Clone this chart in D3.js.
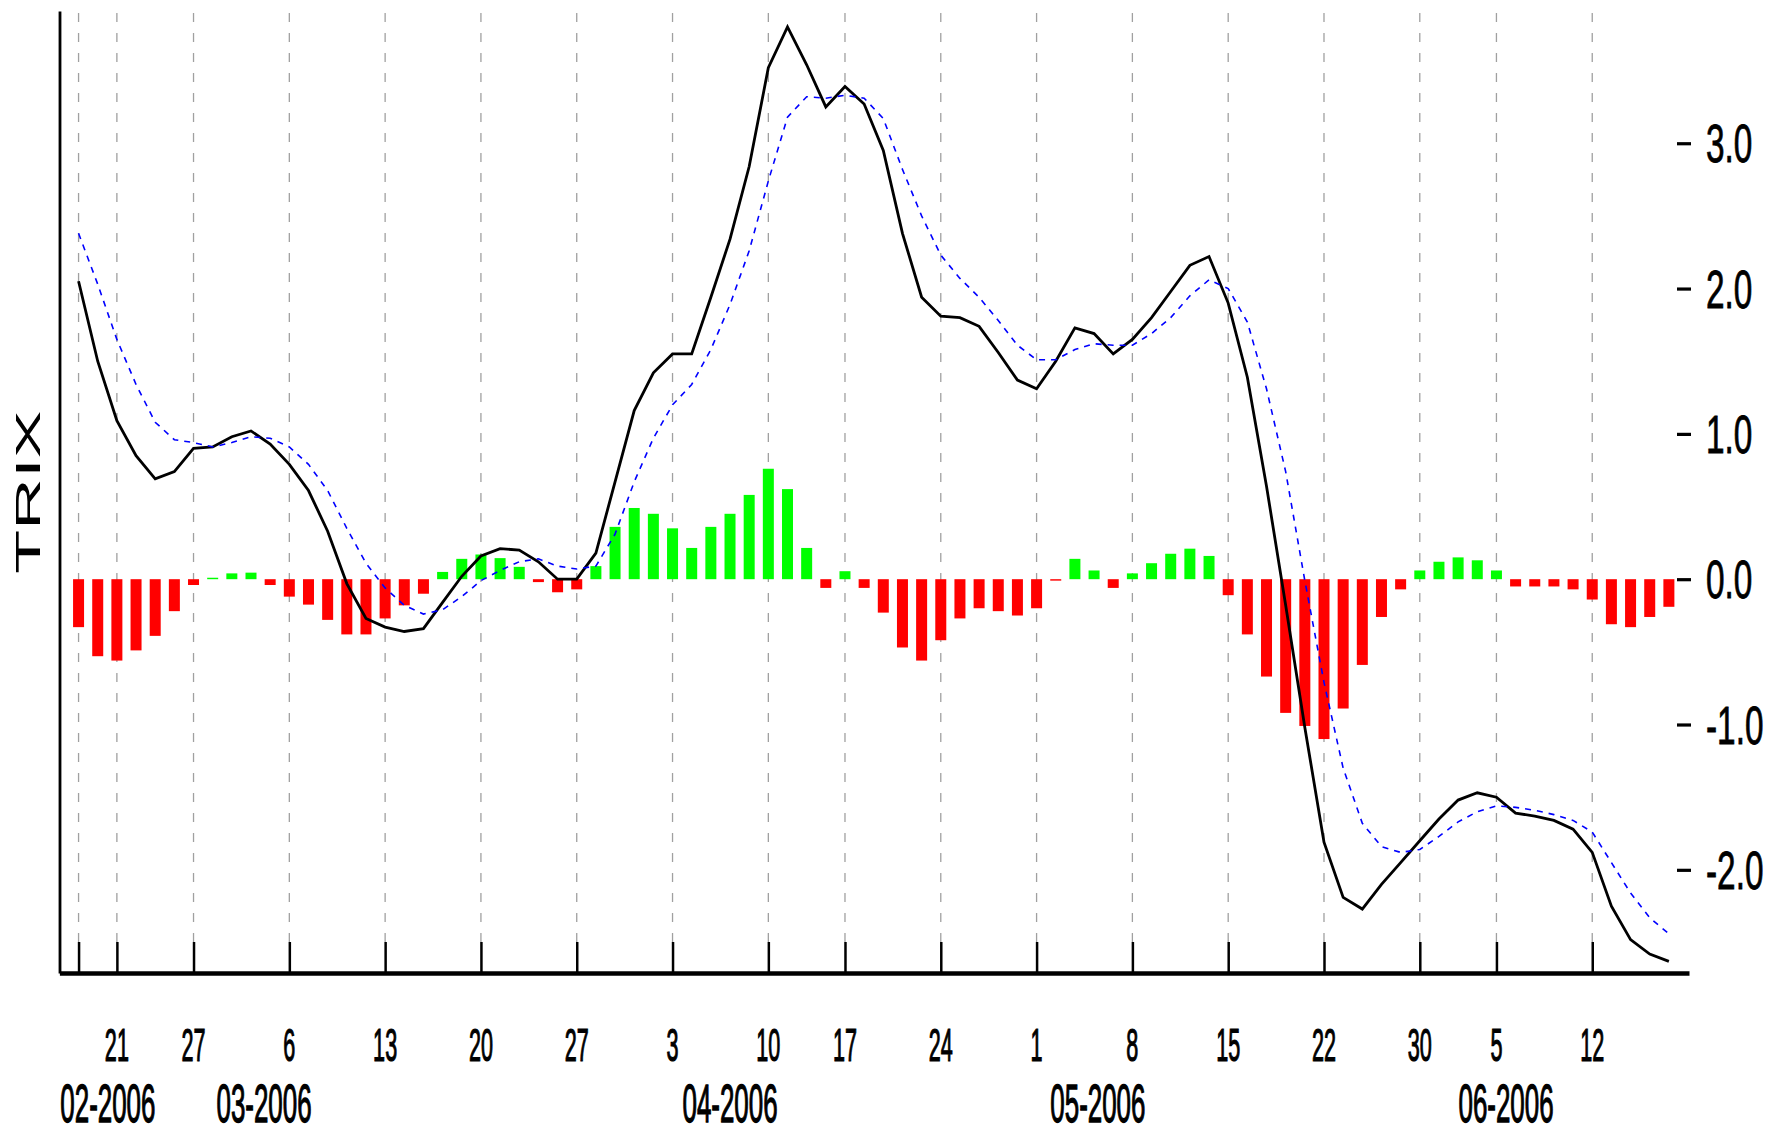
<!DOCTYPE html>
<html>
<head>
<meta charset="utf-8">
<script src="https://cdn.jsdelivr.net/npm/d3@7"></script>
<style>
  html, body { margin: 0; padding: 0; background: #fff; }
  svg { display: block; }
  text { font-family: "Liberation Sans", Arial, sans-serif; fill: #000; }
</style>
</head>
<body>
<script>
// ---------------- DATA ----------------
const trix = [2.05,1.50,1.09,0.85,0.69,0.74,0.90,0.91,0.98,1.02,
  0.93,0.79,0.61,0.33,-0.03,-0.27,-0.33,-0.36,-0.34,-0.16,
  0.02,0.16,0.21,0.20,0.12,0.00,0.00,0.18,0.67,1.16,
  1.42,1.55,1.55,1.94,2.34,2.84,3.52,3.80,3.54,3.25,
  3.39,3.27,2.95,2.38,1.94,1.81,1.80,1.74,1.56,1.37,
  1.31,1.50,1.73,1.69,1.55,1.65,1.80,1.98,2.16,2.22,
  1.90,1.39,0.64,-0.18,-1.02,-1.81,-2.19,-2.27,-2.10,-1.95,
  -1.80,-1.65,-1.52,-1.47,-1.50,-1.61,-1.63,-1.66,-1.72,-1.88,
  -2.25,-2.48,-2.58,-2.63];

const signal = [2.38,2.03,1.65,1.34,1.08,0.96,0.94,0.91,0.94,0.98,
  0.97,0.91,0.79,0.61,0.35,0.11,-0.06,-0.18,-0.24,-0.21,
  -0.12,-0.01,0.06,0.12,0.14,0.09,0.07,0.09,0.31,0.67,
  0.97,1.20,1.34,1.58,1.89,2.26,2.74,3.18,3.32,3.31,
  3.33,3.31,3.17,2.82,2.50,2.23,2.07,1.94,1.78,1.61,
  1.51,1.51,1.58,1.62,1.61,1.61,1.69,1.80,1.95,2.06,
  2.00,1.77,1.31,0.74,-0.01,-0.71,-1.30,-1.68,-1.84,-1.88,
  -1.86,-1.77,-1.67,-1.60,-1.56,-1.57,-1.59,-1.62,-1.66,-1.74,
  -1.95,-2.16,-2.33,-2.44];

const histogram = [-0.33,-0.53,-0.56,-0.49,-0.39,-0.22,-0.04,0.01,0.04,0.045,
  -0.04,-0.12,-0.175,-0.28,-0.38,-0.38,-0.27,-0.18,-0.10,0.05,
  0.14,0.17,0.145,0.085,-0.02,-0.09,-0.07,0.09,0.36,0.49,
  0.45,0.35,0.215,0.36,0.45,0.58,0.76,0.62,0.215,-0.06,
  0.055,-0.06,-0.23,-0.47,-0.56,-0.42,-0.27,-0.20,-0.22,-0.25,
  -0.20,-0.01,0.14,0.06,-0.06,0.04,0.11,0.175,0.21,0.16,
  -0.11,-0.38,-0.67,-0.92,-1.01,-1.10,-0.89,-0.59,-0.26,-0.07,
  0.06,0.12,0.15,0.13,0.06,-0.05,-0.05,-0.05,-0.07,-0.14,
  -0.31,-0.33,-0.26,-0.19];

// trading-day index of each weekly tick, and its label
const dayTickIndex = [0,2,6,11,16,21,26,31,36,40,45,50,55,60,65,70,74,79];
const dayTickLabels = ["","21","27","6","13","20","27","3","10","17","24","1","8","15","22","30","5","12"];

// month labels and the (fractional) trading-day index they sit under
const monthLabels = ["02-2006","03-2006","04-2006","05-2006","06-2006"];
const monthLabelIndex = [1.53, 9.68, 34.0, 53.2, 74.5];

const yTicks = [-2, -1, 0, 1, 2, 3];
const yTickLabels = ["-2.0","-1.0","0.0","1.0","2.0","3.0"];
const yLabel = "TRIX";

// ---------------- CHART ----------------
const W = 1781, H = 1134;
const svg = d3.select("body").append("svg").attr("width", W).attr("height", H);

const x = d3.scaleLinear().domain([-1, 84.05]).range([59.4, 1689]);
const y = d3.scaleLinear().domain([-2.71, 3.91]).range([973, 11]);

// dashed vertical grid
svg.append("g").selectAll("line").data(dayTickIndex).join("line")
  .attr("x1", d => x(d)).attr("x2", d => x(d))
  .attr("y1", 13).attr("y2", 942)
  .attr("stroke", "#a0a0a0").attr("stroke-width", 1.3)
  .attr("stroke-dasharray", "9,11");

// histogram bars
const barW = 11;
svg.append("g").selectAll("rect").data(histogram).join("rect")
  .attr("x", (d, i) => x(i) - barW / 2)
  .attr("width", barW)
  .attr("y", d => y(Math.max(0, d)))
  .attr("height", d => Math.abs(y(d) - y(0)))
  .attr("fill", d => d >= 0 ? "#00ff00" : "#ff0000");

// lines
const line = d3.line().x((d, i) => x(i)).y(d => y(d));
svg.append("path").datum(trix).attr("d", line)
  .attr("fill", "none").attr("stroke", "#000").attr("stroke-width", 2.8)
  .attr("stroke-linejoin", "miter");
svg.append("path").datum(signal).attr("d", line)
  .attr("fill", "none").attr("stroke", "#0000ff").attr("stroke-width", 1.6)
  .attr("stroke-dasharray", "6,6");

// bottom axis
const xAxis = svg.append("g").attr("transform", "translate(0,973)")
  .call(d3.axisBottom(x).tickValues(dayTickIndex).tickSizeInner(-31).tickSizeOuter(0).tickFormat(""));
xAxis.select(".domain").attr("stroke-width", 4.5);
xAxis.selectAll(".tick line").attr("stroke-width", 2.5);

// left axis line
const yAxisL = svg.append("g").attr("transform", "translate(59.5,0)")
  .call(d3.axisLeft(y).tickValues([]).tickSizeOuter(0));
yAxisL.select(".domain").attr("stroke-width", 2.8);

// right ticks
const yAxisR = svg.append("g").attr("transform", "translate(1677,0)")
  .call(d3.axisRight(y).tickValues(yTicks).tickSizeInner(14).tickSizeOuter(0).tickFormat(""));
yAxisR.select(".domain").remove();
yAxisR.selectAll(".tick line").attr("stroke-width", 3.2);

// right labels
svg.append("g").selectAll("text").data(yTicks).join("text")
  .attr("transform", d => `translate(1706,${y(d) + 19}) scale(0.63,1)`)
  .attr("font-size", 53)
  .attr("stroke", "#000").attr("stroke-width", 0.8)
  .text((d, i) => yTickLabels[i]);

// day labels
svg.append("g").selectAll("text").data(dayTickIndex).join("text")
  .attr("transform", d => `translate(${x(d)},1061) scale(0.47,1)`)
  .attr("text-anchor", "middle")
  .attr("font-size", 46)
  .attr("stroke", "#000").attr("stroke-width", 1.2)
  .text((d, i) => dayTickLabels[i]);

// month labels
svg.append("g").selectAll("text").data(monthLabelIndex).join("text")
  .attr("transform", d => `translate(${x(d)},1122) scale(0.48,1)`)
  .attr("text-anchor", "middle")
  .attr("font-size", 54)
  .attr("stroke", "#000").attr("stroke-width", 1.3)
  .text((d, i) => monthLabels[i]);

// y label
svg.append("text")
  .attr("transform", "translate(40,492) rotate(-90) scale(2.05,1)")
  .attr("text-anchor", "middle")
  .attr("font-size", 35)
  .text(yLabel);
</script>
</body>
</html>
